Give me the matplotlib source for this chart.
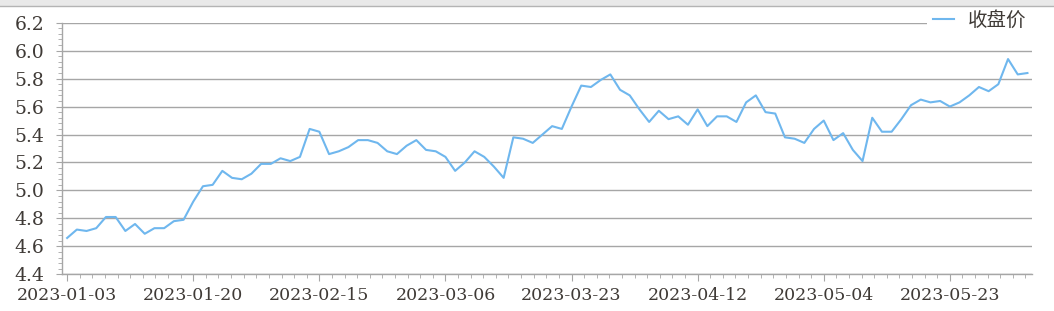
import matplotlib

matplotlib.use("Agg")
import matplotlib.pyplot as plt
from matplotlib.patches import Rectangle
from matplotlib.lines import Line2D
from matplotlib.ticker import MultipleLocator, FixedLocator

# closing price, one value per trading day (2023-01-03 .. 2023-06-02)
close = [
    4.66, 4.72, 4.71, 4.73, 4.81, 4.81, 4.71, 4.76, 4.69, 4.73,
    4.73, 4.78, 4.79, 4.92, 5.03, 5.04, 5.14, 5.09, 5.08, 5.12,
    5.19, 5.19, 5.23, 5.21, 5.24, 5.44, 5.42, 5.26, 5.28, 5.31,
    5.36, 5.36, 5.34, 5.28, 5.26, 5.32, 5.36, 5.29, 5.28, 5.24,
    5.14, 5.20, 5.28, 5.24, 5.17, 5.09, 5.38, 5.37, 5.34, 5.40,
    5.46, 5.44, 5.60, 5.75, 5.74, 5.79, 5.83, 5.72, 5.68, 5.58,
    5.49, 5.57, 5.51, 5.53, 5.47, 5.58, 5.46, 5.53, 5.53, 5.49,
    5.63, 5.68, 5.56, 5.55, 5.38, 5.37, 5.34, 5.44, 5.50, 5.36,
    5.41, 5.29, 5.21, 5.52, 5.42, 5.42, 5.51, 5.61, 5.65, 5.63,
    5.64, 5.60, 5.63, 5.68, 5.74, 5.71, 5.76, 5.94, 5.83, 5.84,
]
tick_pos = [0, 13, 26, 39, 52, 65, 78, 91]
tick_labels = ["2023-01-03", "2023-01-20", "2023-02-15", "2023-03-06",
               "2023-03-23", "2023-04-12", "2023-05-04", "2023-05-23"]
series_name = "收盘价"

LINE = "#6fb7ee"
GRID = "#a6a6a6"
TEXT = "#3f3a36"

fig = plt.figure(figsize=(10.54, 3.11), dpi=100)
fig.patch.set_facecolor("white")
ax = fig.add_axes([0.0591, 0.118, 0.9203, 0.809])

# window chrome strip at the very top
fig.patches.append(Rectangle((0, 0.981), 1, 0.019, transform=fig.transFigure,
                             facecolor="#e9e9e9", edgecolor="none"))
fig.lines.append(Line2D([0, 1], [0.981, 0.981], transform=fig.transFigure,
                        color="#b4b4b4", lw=1))

x = list(range(len(close)))
ax.plot(x, close, color=LINE, lw=1.5, label=series_name, zorder=3)

ax.set_xlim(-0.5, len(close) - 0.5)
ax.set_ylim(4.4, 6.2)
ax.xaxis.set_major_locator(FixedLocator(tick_pos))
ax.set_xticklabels(tick_labels)
ax.xaxis.set_minor_locator(MultipleLocator(1.3))
ax.yaxis.set_major_locator(MultipleLocator(0.2))
ax.yaxis.set_minor_locator(MultipleLocator(0.04))
ax.yaxis.set_major_formatter(matplotlib.ticker.FormatStrFormatter("%.1f"))

ax.grid(axis="y", which="major", color=GRID, lw=1)
ax.set_axisbelow(True)
for s in ("top", "right"):
    ax.spines[s].set_visible(False)
for s in ("left", "bottom"):
    ax.spines[s].set_color(GRID)
    ax.spines[s].set_linewidth(1)

ax.tick_params(axis="x", which="major", length=5, color=GRID, pad=4,
               labelsize=12.5, labelcolor=TEXT)
ax.tick_params(axis="x", which="minor", length=3, color=GRID)
ax.tick_params(axis="y", which="major", length=4, color=GRID, pad=9,
               labelsize=13.5, labelcolor=TEXT)
ax.tick_params(axis="y", which="minor", length=3, color=GRID)
for lab in ax.get_xticklabels() + ax.get_yticklabels():
    lab.set_family("DejaVu Serif")

leg = ax.legend(loc="upper right", bbox_to_anchor=(1.0, 1.075), frameon=True,
                facecolor="white", edgecolor="none", framealpha=1,
                prop={"family": ["Noto Sans CJK SC", "DejaVu Sans"], "size": 14},
                handlelength=1.1, handletextpad=0.7, borderpad=0.3,
                borderaxespad=0.0)
for t in leg.get_texts():
    t.set_color(TEXT)

fig.savefig("out.png", dpi=100, facecolor="white")
